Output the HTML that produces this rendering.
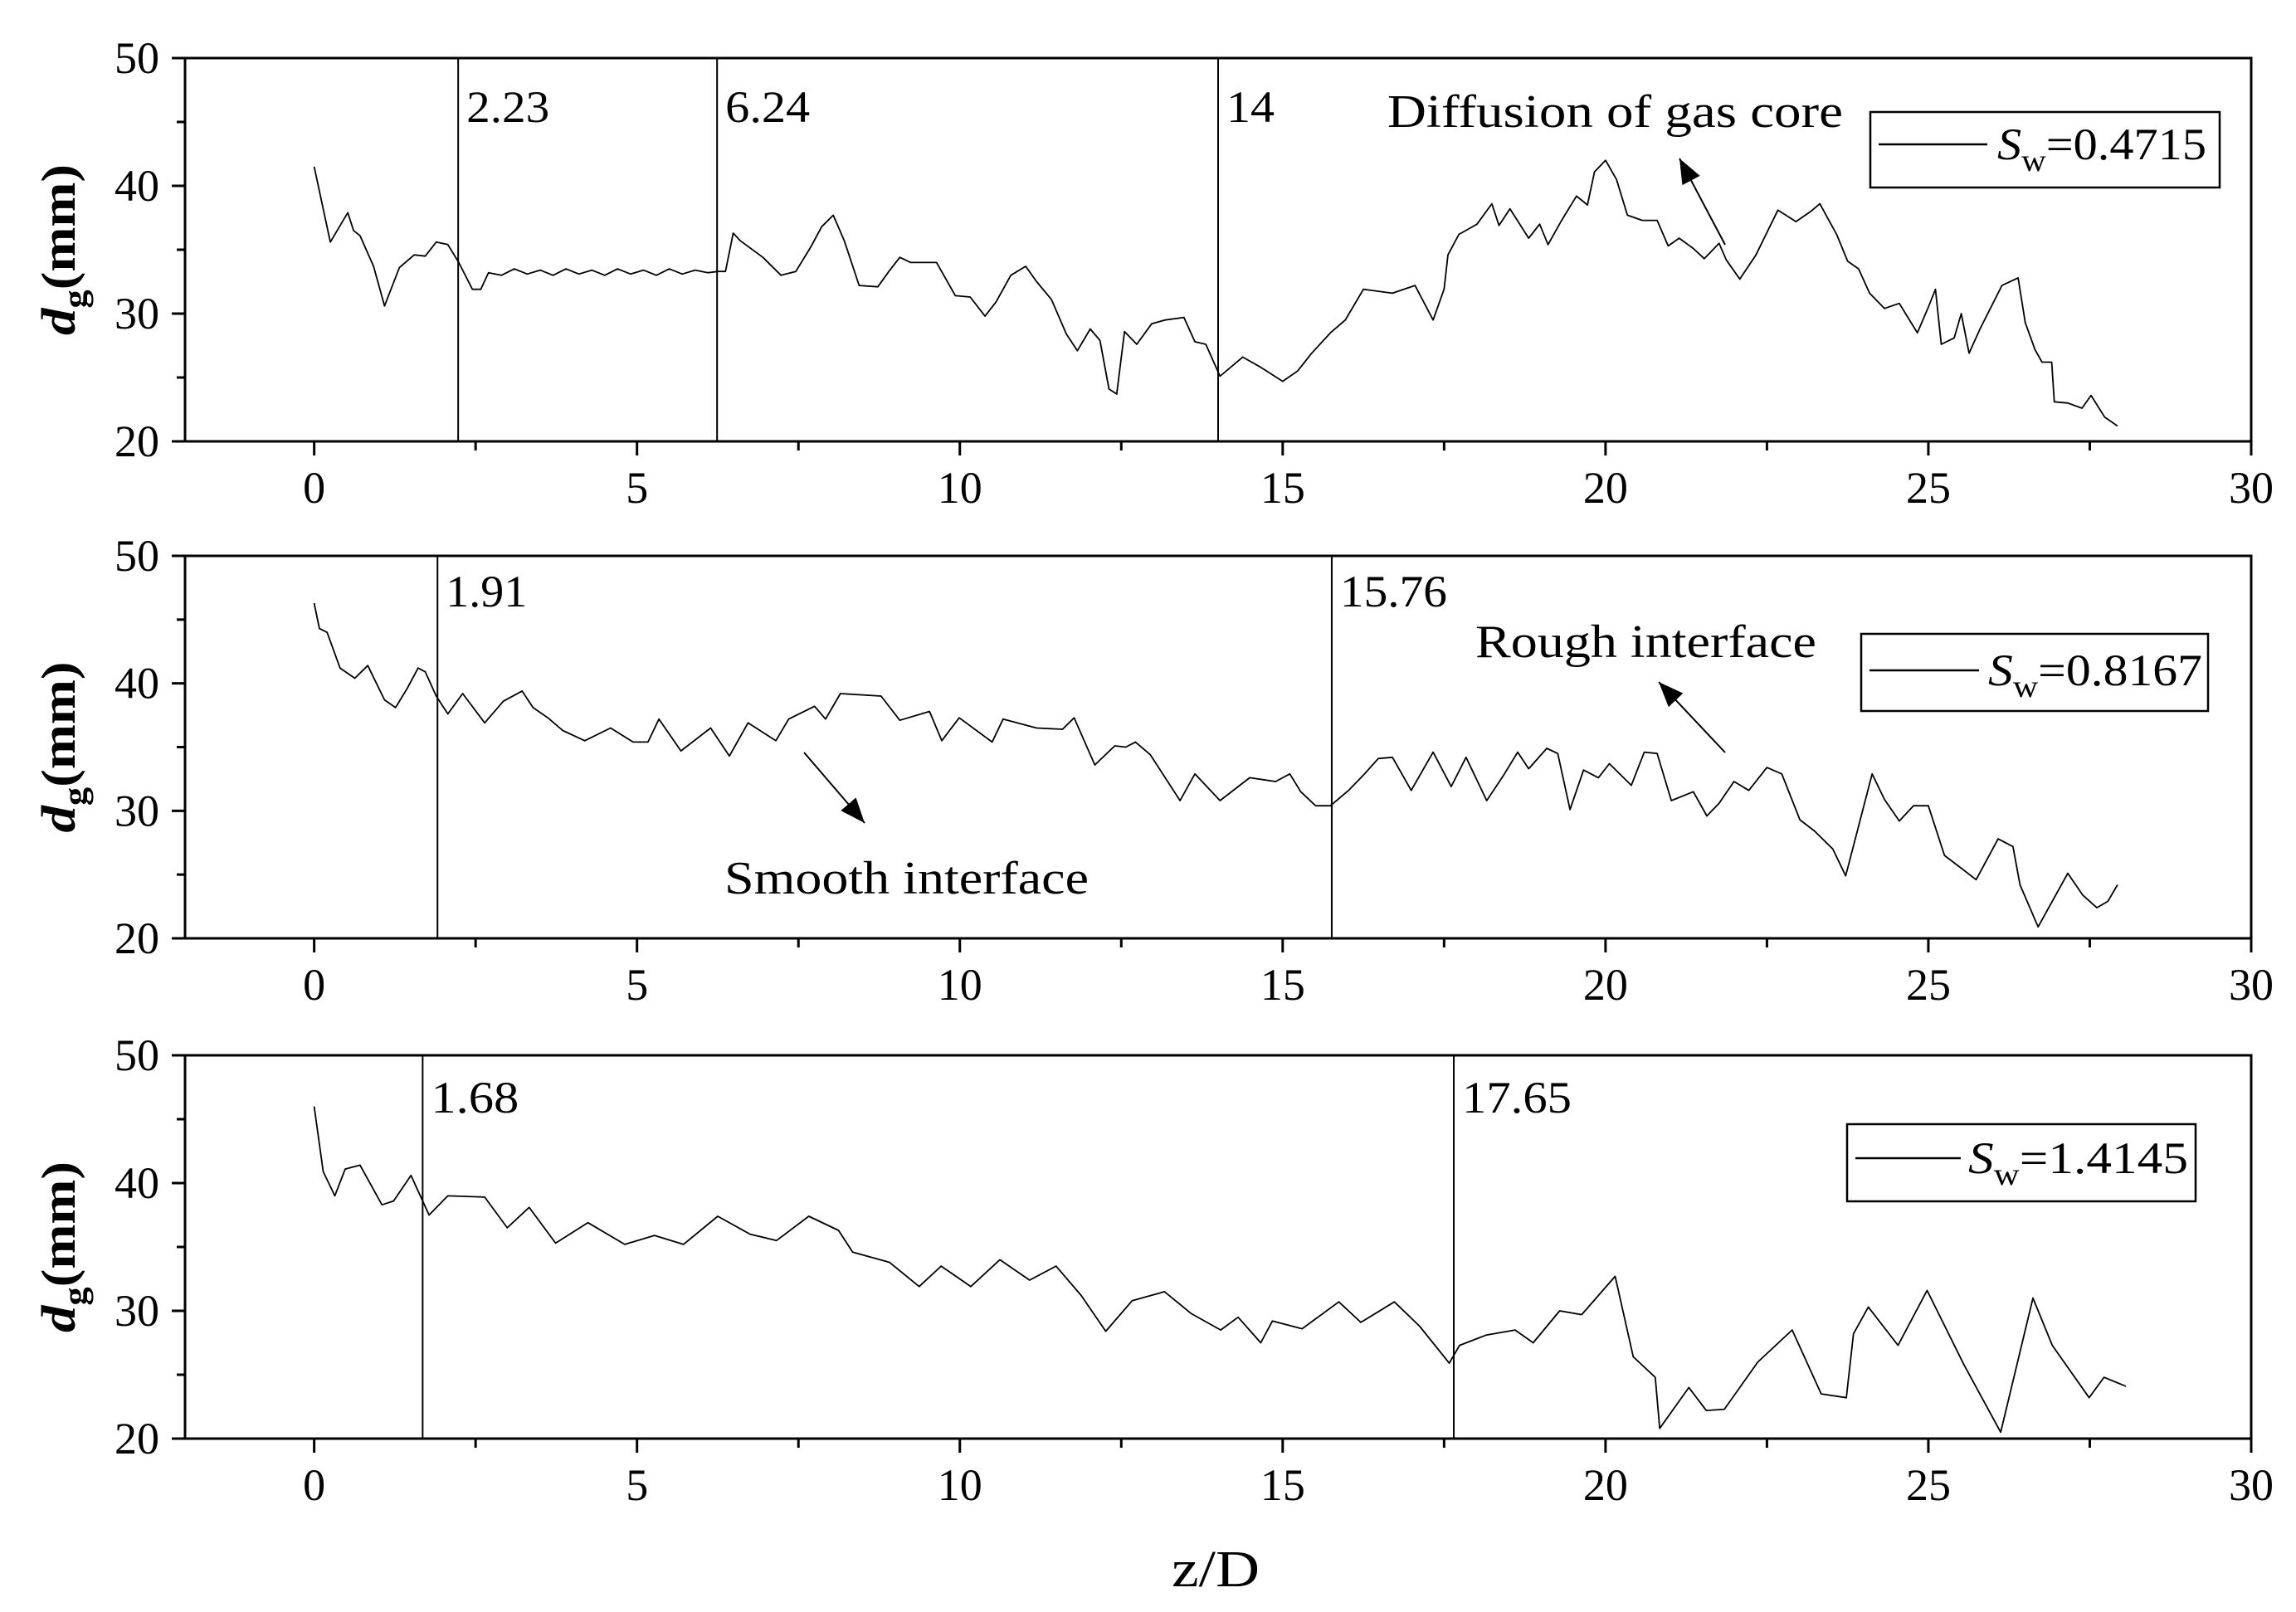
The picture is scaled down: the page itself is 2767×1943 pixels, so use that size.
<!DOCTYPE html>
<html><head><meta charset="utf-8"><style>
html,body{margin:0;padding:0;background:#fff}
svg{display:block}
text{font-family:"Liberation Serif",serif;fill:#000}
</style></head><body>
<svg id="chart" width="2767" height="1943" viewBox="0 0 2767 1943" xmlns="http://www.w3.org/2000/svg">
<defs>
<marker id="ah2" viewBox="0 0 10 10" refX="10" refY="5" markerWidth="34" markerHeight="30" orient="auto" markerUnits="userSpaceOnUse"><path d="M0,1 L10,5 L0,9 z" fill="#000"/></marker></defs>
<g id="root"></g>
</svg>
<script>
const xTicks = [0, 5, 10, 15, 20, 25, 30];
const yTicks = [20, 30, 40, 50];
const s1x = [0,0.25,0.52,0.61,0.71,0.92,1.09,1.32,1.55,1.72,1.89,2.07,2.24,2.45,2.58,2.7,2.9,3.1,3.3,3.5,3.7,3.9,4.1,4.3,4.5,4.7,4.9,5.1,5.3,5.5,5.7,5.9,6.1,6.25,6.37,6.49,6.6,6.95,7.23,7.46,7.69,7.86,8.04,8.21,8.44,8.73,8.9,9.07,9.24,9.64,9.93,10.16,10.39,10.56,10.79,11.02,11.19,11.42,11.65,11.82,12.02,12.17,12.31,12.43,12.55,12.74,12.97,13.18,13.47,13.64,13.81,14.03,14.38,14.66,15.0,15.23,15.45,15.74,15.97,16.25,16.7,17.05,17.33,17.5,17.56,17.73,18.01,18.24,18.35,18.52,18.81,18.98,19.11,19.32,19.55,19.72,19.83,20.0,20.17,20.34,20.57,20.8,20.97,21.14,21.36,21.53,21.76,21.87,22.08,22.33,22.67,22.95,23.18,23.32,23.47,23.58,23.75,23.92,24.09,24.32,24.55,24.83,25.0,25.11,25.2,25.4,25.51,25.63,25.8,26.14,26.39,26.5,26.65,26.76,26.91,26.95,27.16,27.38,27.52,27.73,27.93];
const s1y = [41.5,35.6,37.9,36.5,36.1,33.7,30.6,33.6,34.6,34.5,35.6,35.4,34.0,31.9,31.9,33.2,33.0,33.5,33.1,33.4,33.0,33.5,33.1,33.4,33.0,33.5,33.1,33.4,33.0,33.5,33.1,33.4,33.2,33.3,33.3,36.3,35.7,34.4,33.0,33.3,35.2,36.8,37.7,35.7,32.2,32.1,33.3,34.4,34.0,34.0,31.4,31.3,29.8,30.9,33.0,33.7,32.5,31.1,28.4,27.1,28.8,27.9,24.1,23.7,28.6,27.6,29.2,29.5,29.7,27.8,27.6,25.1,26.6,25.8,24.7,25.5,26.9,28.5,29.5,31.9,31.6,32.2,29.5,31.9,34.6,36.2,37.0,38.6,36.9,38.2,35.9,37.0,35.4,37.3,39.2,38.5,41.1,42.0,40.5,37.7,37.3,37.3,35.3,35.9,35.1,34.3,35.5,34.2,32.7,34.6,38.1,37.2,38.0,38.6,37.2,36.2,34.1,33.5,31.6,30.4,30.8,28.5,30.5,31.9,27.6,28.1,30.0,26.9,28.8,32.2,32.8,29.3,27.2,26.2,26.2,23.1,23.0,22.6,23.6,21.9,21.2];
const s2x = [0,0.08,0.2,0.4,0.63,0.83,1.09,1.26,1.44,1.61,1.72,1.89,2.07,2.3,2.64,2.93,3.22,3.39,3.62,3.85,4.19,4.59,4.94,5.17,5.34,5.68,6.14,6.43,6.72,7.15,7.35,7.75,7.92,8.15,8.78,9.07,9.53,9.72,9.99,10.5,10.67,11.19,11.59,11.77,12.09,12.4,12.57,12.72,12.95,13.41,13.64,14.03,14.49,14.89,15.11,15.28,15.51,15.74,16.02,16.25,16.48,16.7,16.99,17.33,17.61,17.84,18.16,18.41,18.64,18.81,19.09,19.26,19.45,19.66,19.89,20.06,20.4,20.6,20.8,21.02,21.36,21.57,21.76,21.99,22.22,22.5,22.73,23.01,23.24,23.52,23.72,24.13,24.32,24.55,24.77,25.0,25.25,25.51,25.74,26.08,26.31,26.42,26.7,27.16,27.39,27.61,27.78,27.93];
const s2y = [46.3,44.3,44.0,41.2,40.4,41.4,38.7,38.1,39.6,41.2,40.9,39.0,37.6,39.2,36.9,38.6,39.4,38.1,37.3,36.3,35.5,36.5,35.4,35.4,37.2,34.7,36.5,34.3,36.9,35.5,37.2,38.2,37.2,39.2,39.0,37.1,37.8,35.5,37.3,35.4,37.2,36.5,36.4,37.3,33.6,35.1,35.0,35.4,34.4,30.8,32.9,30.8,32.6,32.3,32.9,31.5,30.4,30.4,31.6,32.8,34.1,34.2,31.6,34.6,31.9,34.2,30.8,32.7,34.6,33.3,34.9,34.5,30.1,33.2,32.6,33.7,32.0,34.6,34.5,30.8,31.5,29.6,30.6,32.3,31.6,33.4,32.9,29.3,28.4,27.0,24.9,32.9,30.9,29.2,30.4,30.4,26.5,25.5,24.6,27.8,27.2,24.2,20.9,25.1,23.4,22.4,22.9,24.2];
const s3x = [0,0.14,0.32,0.48,0.71,1.05,1.23,1.5,1.78,2.07,2.64,2.99,3.33,3.74,4.24,4.81,5.27,5.72,6.25,6.75,7.16,7.66,8.12,8.34,8.91,9.37,9.71,10.17,10.62,11.08,11.49,11.88,12.26,12.67,13.17,13.58,14.04,14.31,14.66,14.84,15.3,15.87,16.21,16.73,17.12,17.58,17.74,18.15,18.6,18.88,19.29,19.63,20.15,20.43,20.77,20.84,21.29,21.56,21.84,22.36,22.89,23.34,23.73,23.84,24.07,24.53,24.98,25.55,26.12,26.62,26.92,27.49,27.72,28.06];
const s3y = [46.0,40.9,39.0,41.1,41.4,38.3,38.6,40.6,37.5,39.0,38.9,36.5,38.1,35.3,36.9,35.2,35.9,35.2,37.4,36.0,35.5,37.4,36.3,34.6,33.8,31.9,33.5,31.9,34.0,32.4,33.5,31.2,28.4,30.8,31.5,29.8,28.5,29.5,27.5,29.2,28.6,30.7,29.1,30.7,28.8,25.9,27.3,28.1,28.5,27.5,30.0,29.7,32.7,26.4,24.8,20.8,24.0,22.2,22.3,26.0,28.5,23.5,23.2,28.2,30.3,27.3,31.6,25.8,20.5,31.0,27.3,23.2,24.8,24.1];
const markers1 = [2.23, 6.24, 14];
const markers2 = [1.91, 15.76];
const markers3 = [1.68, 17.65];
const markerLabels1 = ["2.23","6.24","14"];
const markerLabels2 = ["1.91","15.76"];
const markerLabels3 = ["1.68","17.65"];
const legendValues = ["0.4715","0.8167","1.4145"];

const NS = "http://www.w3.org/2000/svg";
const root = document.getElementById('root');
const L = 223, R = 2713;
const X = v => L + (v + 2) * (R - L) / 32;
function mk(tag, attrs, parent) {
  const e = document.createElementNS(NS, tag);
  for (const k in attrs) e.setAttribute(k, attrs[k]);
  (parent || root).appendChild(e);
  return e;
}
const panels = [
  {top:70, bot:532, xs:s1x, ys:s1y, mk:markers1, ml:markerLabels1, mlW:[100,102,58], mlY:147,
   leg:{x1:2254,x2:2675,y1:135,y2:226,lx1:2264,lx2:2395,ly:174,tx:2407,tw:252}},
  {top:670, bot:1131, xs:s2x, ys:s2y, mk:markers2, ml:markerLabels2, mlW:[98,129], mlY:731,
   leg:{x1:2243,x2:2661,y1:764,y2:857,lx1:2253,lx2:2385,ly:808,tx:2396,tw:258}},
  {top:1272, bot:1734, xs:s3x, ys:s3y, mk:markers3, ml:markerLabels3, mlW:[106,132], mlY:1341,
   leg:{x1:2226,x2:2646,y1:1355,y2:1448,lx1:2236,lx2:2363,ly:1396,tx:2372,tw:265}}
];
panels.forEach((p, pi) => {
  const g = mk('g', {});
  
  
  const Y = v => p.bot - (v - 20) * (p.bot - p.top) / 30;
  const fr = mk('rect', {x:L, y:p.top, width:R-L, height:p.bot-p.top, fill:'none', stroke:'#000', 'stroke-width':3}, g);
  
  
  for (let v = -2.5; v <= 30; v += 2.5) {
    if (v < -2) continue;
    const major = v % 5 === 0;
    mk('line', {x1:X(v), x2:X(v), y1:p.bot, y2:p.bot + (major ? 17 : 11), stroke:'#000', 'stroke-width':3}, g);
  }
  xTicks.forEach(v => {
    const s = String(v);
    const t = mk('text', {x:X(v), y:p.bot + 74, 'font-size':54, 'text-anchor':'middle', textLength:27*s.length, lengthAdjust:'spacingAndGlyphs'}, g);
    t.textContent = s;
    
    
  });
  for (let v = 20; v <= 50; v += 5) {
    const major = v % 10 === 0;
    mk('line', {x1:L - (major ? 16 : 10), x2:L, y1:Y(v), y2:Y(v), stroke:'#000', 'stroke-width':3}, g);
  }
  yTicks.forEach(v => {
    const t = mk('text', {x:192, y:Y(v) + 18, 'font-size':54, 'text-anchor':'end', textLength:54, lengthAdjust:'spacingAndGlyphs'}, g);
    t.textContent = v;
    
    
  });
  const cy = (p.top + p.bot) / 2;
  const yt = mk('text', {x:0, y:0, 'font-size':58, 'font-weight':'bold', 'text-anchor':'middle', transform:`translate(90,${cy}) rotate(-90)`, textLength:206, lengthAdjust:'spacingAndGlyphs'}, g);
  yt.innerHTML = '<tspan font-style="italic">d</tspan><tspan font-size="40" dy="14">g</tspan><tspan dy="-14">(mm)</tspan>';
  
  
  p.mk.forEach((m, i) => {
    const ln = mk('line', {x1:X(m), x2:X(m), y1:p.top, y2:p.bot, stroke:'#000', 'stroke-width':2}, g);
    
    
    const t = mk('text', {x:X(m) + 10, y:p.mlY, 'font-size':54, textLength:p.mlW[i], lengthAdjust:'spacingAndGlyphs'}, g);
    t.textContent = p.ml[i];
    
    
  });
  let d = '';
  p.xs.forEach((x, i) => { d += (i ? 'L' : 'M') + X(x).toFixed(1) + ',' + Y(p.ys[i]).toFixed(1); });
  const path = mk('path', {d:d, fill:'none', stroke:'#000', 'stroke-width':1.8, 'stroke-linejoin':'round'}, g);
  
  
  const lg = mk('g', {}, g);
  
  
  const q = p.leg;
  mk('rect', {x:q.x1, y:q.y1, width:q.x2-q.x1, height:q.y2-q.y1, fill:'#fff', stroke:'#000', 'stroke-width':2.5}, lg);
  mk('line', {x1:q.lx1, x2:q.lx2, y1:q.ly, y2:q.ly, stroke:'#000', 'stroke-width':2.5}, lg);
  const lt = mk('text', {x:q.tx, y:q.ly + 18, 'font-size':54, textLength:q.tw, lengthAdjust:'spacingAndGlyphs'}, lg);
  lt.innerHTML = '<tspan font-style="italic">S</tspan><tspan font-size="38" dy="14">w</tspan><tspan dy="-14">=' + legendValues[pi] + '</tspan>';
  
  
});
function ann(x, y, w, txt, name) {
  const t = mk('text', {x:x, y:y, 'font-size':56, textLength:w, lengthAdjust:'spacingAndGlyphs'});
  t.textContent = txt;
  
  
}
function arrow(x1, y1, x2, y2, name) {
  const a = mk('line', {x1:x1, y1:y1, x2:x2, y2:y2, stroke:'#000', 'stroke-width':2, 'marker-end':'url(#ah2)'});
  
  
}
ann(1672, 153, 549, 'Diffusion of gas core', 'annotation-gas-core');
arrow(2079, 295, 2024, 191, 'arrow-gas-core');
ann(1778, 792, 411, 'Rough interface', 'annotation-rough');
arrow(2079, 907, 1999, 822, 'arrow-rough');
ann(873, 1077, 439, 'Smooth interface', 'annotation-smooth');
arrow(969, 907, 1042, 992, 'arrow-smooth');
const xt = mk('text', {x:1465, y:1912, 'font-size':62, 'text-anchor':'middle', textLength:106, lengthAdjust:'spacingAndGlyphs'});
xt.textContent = 'z/D';


</script>
</body></html>
